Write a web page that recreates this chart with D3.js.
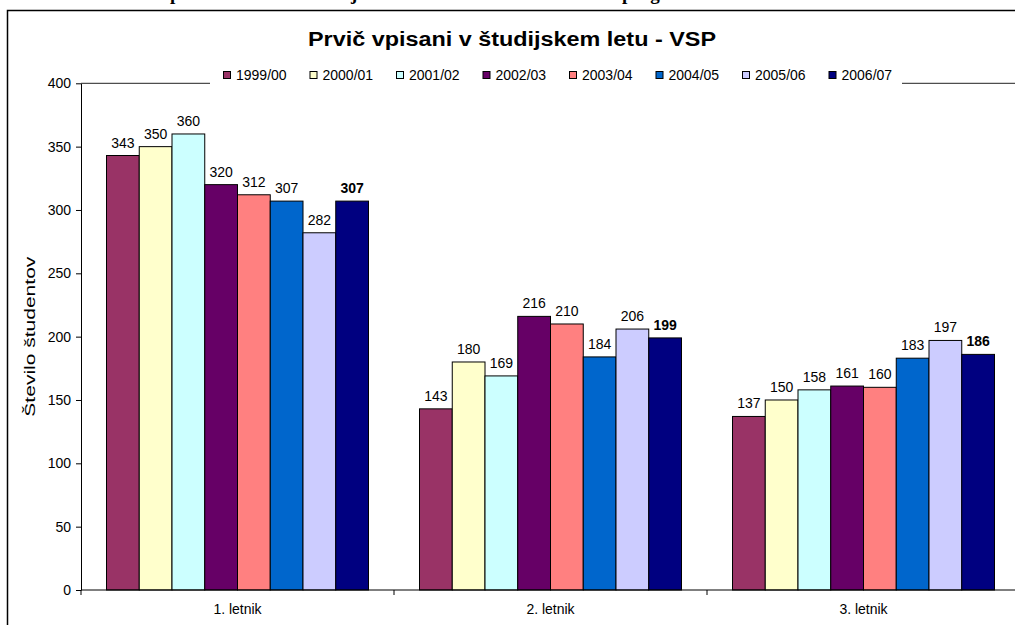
<!DOCTYPE html>
<html>
<head>
<meta charset="utf-8">
<script src="https://cdn.jsdelivr.net/npm/d3@7/dist/d3.min.js"></script>
<style>
  body { margin: 0; background: #fff; }
  svg { display: block; font-family: "Liberation Sans", Arial, sans-serif; }
</style>
</head>
<body>
<script>
// Data
let letniki = ['1. letnik', '2. letnik', '3. letnik'];
let leta = ['1999/00', '2000/01', '2001/02', '2002/03', '2003/04', '2004/05', '2005/06', '2006/07'];
let barve = ['#993366', '#FFFFCC', '#CCFFFF', '#660066', '#FF8080', '#0066CC', '#CCCCFF', '#000080'];
// one row per study year, values for 1., 2., 3. letnik
let vpisani = [
  [343, 143, 137],
  [350, 180, 150],
  [360, 169, 158],
  [320, 216, 161],
  [312, 210, 160],
  [307, 184, 183],
  [282, 206, 197],
  [307, 199, 186]
];
let yTicks = [0, 50, 100, 150, 200, 250, 300, 350, 400];

let W = 1015, H = 625;
let svg = d3.select('body').append('svg')
  .attr('width', W)
  .attr('height', H);

// heading of the page above, cut off - only descenders show
let cut = [
  { text: 'Vpisani študenti', ch: 1, x: 170 },
  { text: 'v študijskem letu', ch: 7, x: 351 },
  { text: '– visokošolski strokovni program', ch: 25, x: 622 }
];
cut.forEach(c => {
  let t = svg.append('text')
    .attr('y', -0.5)
    .attr('font-family', '"Liberation Serif", "Times New Roman", serif')
    .attr('font-weight', 'bold')
    .attr('font-size', '19px')
    .text(c.text);
  let off = t.node().getStartPositionOfChar(c.ch).x;
  t.attr('x', c.x - off);
});

// chart frame
svg.append('rect')
  .attr('x', 7.5).attr('y', 10.5)
  .attr('width', 1100).attr('height', 700)
  .attr('fill', '#fff')
  .attr('stroke', '#000')
  .attr('stroke-width', 1.5);

let plotLeft = 81, plotTop = 83.3, plotBottom = 590, groupW = 313;

let x0 = d3.scaleBand()
  .domain(letniki)
  .range([plotLeft, plotLeft + groupW * letniki.length]);

let x1 = d3.scaleBand()
  .domain(leta)
  .range([25.5, groupW - 25.5]);

let y = d3.scaleLinear()
  .domain([0, 400])
  .range([plotBottom, plotTop]);

// plot area top border
svg.append('line')
  .attr('x1', plotLeft).attr('x2', x0.range()[1])
  .attr('y1', y(400)).attr('y2', y(400))
  .attr('stroke', '#222');

// y axis
let yAxis = svg.append('g')
  .attr('transform', `translate(${plotLeft},0)`)
  .call(d3.axisLeft(y).tickValues(yTicks).tickSize(5).tickPadding(5).tickSizeOuter(0));
yAxis.select('.domain').attr('stroke', '#000');
yAxis.selectAll('.tick line').attr('stroke', '#000');
yAxis.selectAll('text')
  .attr('font-family', '"Liberation Sans", Arial, sans-serif')
  .attr('font-size', '14px')
  .attr('fill', '#000');

// bars
let groups = svg.selectAll('g.serija')
  .data(leta)
  .enter()
  .append('g')
  .attr('class', 'serija')
  .attr('fill', (d, i) => barve[i]);

groups.selectAll('rect')
  .data((d, i) => vpisani[i].map((v, j) => ({ leto: d, letnik: letniki[j], v: v })))
  .enter()
  .append('rect')
  .attr('x', d => x0(d.letnik) + x1(d.leto))
  .attr('y', d => y(d.v))
  .attr('width', x1.bandwidth())
  .attr('height', d => y(0) - y(d.v))
  .attr('stroke', '#000')
  .attr('stroke-width', 1);

// value labels
groups.selectAll('text')
  .data((d, i) => vpisani[i].map((v, j) => ({ leto: d, letnik: letniki[j], v: v, last: i === leta.length - 1 })))
  .enter()
  .append('text')
  .attr('x', d => x0(d.letnik) + x1(d.leto) + x1.bandwidth() / 2)
  .attr('y', d => y(d.v) - 8)
  .attr('text-anchor', 'middle')
  .attr('font-size', '14px')
  .attr('font-weight', d => d.last ? 'bold' : 'normal')
  .attr('fill', '#000')
  .text(d => d.v);

// x axis
svg.append('line')
  .attr('x1', plotLeft).attr('x2', x0.range()[1])
  .attr('y1', plotBottom).attr('y2', plotBottom)
  .attr('stroke', '#000');

let meje = letniki.map(c => x0(c)).concat([x0.range()[1]]);
svg.selectAll('line.meja')
  .data(meje)
  .enter()
  .append('line')
  .attr('class', 'meja')
  .attr('x1', d => d).attr('x2', d => d)
  .attr('y1', plotBottom).attr('y2', plotBottom + 5)
  .attr('stroke', '#000');

svg.selectAll('text.letnik')
  .data(letniki)
  .enter()
  .append('text')
  .attr('class', 'letnik')
  .attr('x', d => x0(d) + x0.bandwidth() / 2)
  .attr('y', 614)
  .attr('text-anchor', 'middle')
  .attr('font-size', '14px')
  .text(d => d);

// axis title
svg.append('text')
  .attr('transform', `translate(35,${(plotTop + plotBottom) / 2}) rotate(-90)`)
  .attr('text-anchor', 'middle')
  .attr('font-size', '15px')
  .attr('textLength', 160)
  .attr('lengthAdjust', 'spacingAndGlyphs')
  .text('Število študentov');

// chart title
svg.append('text')
  .attr('x', 512)
  .attr('y', 46)
  .attr('text-anchor', 'middle')
  .attr('font-size', '20px')
  .attr('font-weight', 'bold')
  .attr('textLength', 408)
  .attr('lengthAdjust', 'spacingAndGlyphs')
  .text('Prvič vpisani v študijskem letu - VSP');

// legend
let legend = svg.append('g');
legend.append('rect')
  .attr('x', 210).attr('y', 64)
  .attr('width', 692).attr('height', 24)
  .attr('fill', '#fff');

let item = legend.selectAll('g.item')
  .data(leta)
  .enter()
  .append('g')
  .attr('class', 'item')
  .attr('transform', (d, i) => `translate(${223 + i * 86.5},0)`);

item.append('rect')
  .attr('x', 0.5).attr('y', 71.5)
  .attr('width', 7).attr('height', 7)
  .attr('fill', (d, i) => barve[i])
  .attr('stroke', '#000');

item.append('text')
  .attr('x', 13)
  .attr('y', 80)
  .attr('font-size', '14px')
  .text(d => d);
</script>
</body>
</html>
